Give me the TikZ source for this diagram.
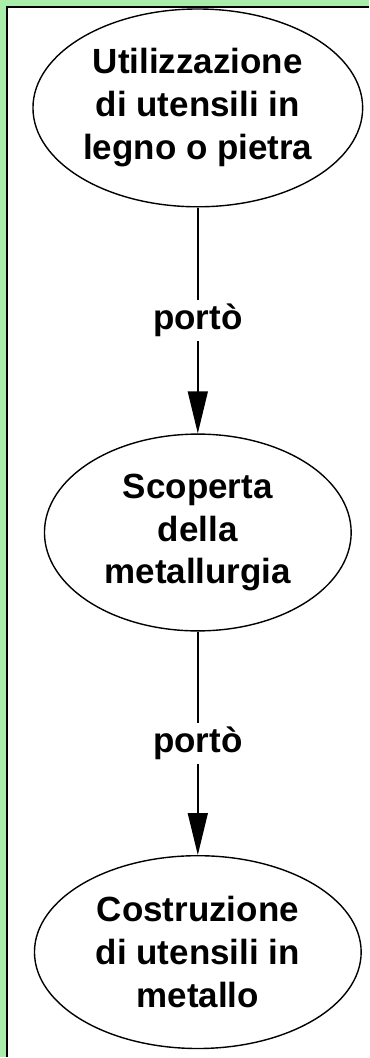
\documentclass[tikz,border=0pt]{standalone}
\usepackage{xcolor}
\usepackage{fontspec}
\setmainfont{Liberation Sans}
\usepackage{tikz}
\usetikzlibrary{arrows.meta,shapes.geometric}
\definecolor{framegreen}{RGB}{170,236,170}

\begin{document}
\begin{tikzpicture}[x=1pt, y=-1pt,
  concept/.style={ellipse, draw=black, line width=1.4pt, fill=white, inner sep=0pt, align=center,
    font=\bfseries\fontsize{35}{43}\selectfont},
  link/.style={fill=white, inner sep=4pt, font=\bfseries\fontsize{35}{43}\selectfont},
  arr/.style={-{Triangle[length=42pt,width=20pt]}, line width=1.4pt, draw=black}
]

% frame
\fill[framegreen] (0,0) rectangle (369,1058);
\fill[white] (6,6) rectangle (369,1058);
\draw[line width=2pt] (7,1058) -- (7,7) -- (369,7);
\useasboundingbox (0,0) rectangle (369,1058);

% concepts
\node[concept, minimum width=330pt, minimum height=198pt] (wood) at (198,108) {Utilizzazione\\di utensili in\\legno o pietra};
\node[concept, minimum width=307pt, minimum height=197pt] (metal) at (198,533) {Scoperta\\della\\metallurgia};
\node[concept, minimum width=327pt, minimum height=193pt] (tools) at (198,953) {Costruzione\\di utensili in\\metallo};

\draw[arr] (wood) -- node[link] {portò} (metal);
\draw[arr] (metal) -- node[link] {portò} (tools);

\end{tikzpicture}
\end{document}
